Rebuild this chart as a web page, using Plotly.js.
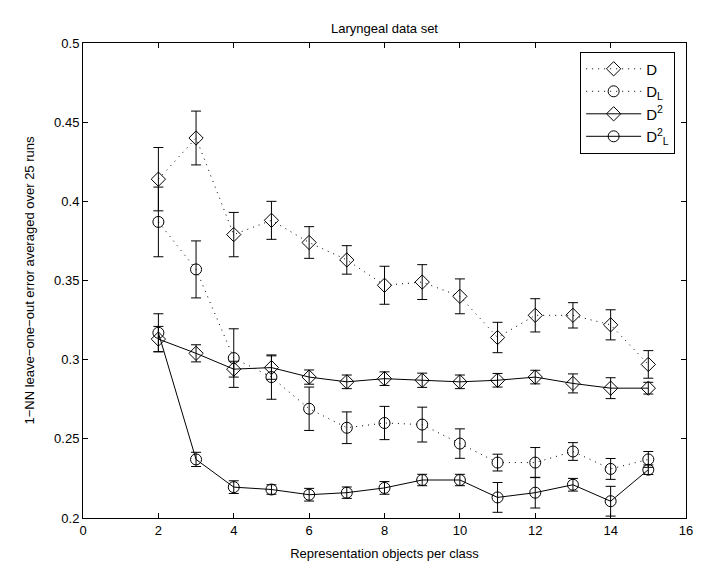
<!DOCTYPE html>
<html>
<head>
<meta charset="utf-8">
<script src="https://cdn.plot.ly/plotly-3.0.1.min.js"></script>
<style>html,body{margin:0;padding:0;background:#fff;}#chart{width:708px;height:571px;}</style>
</head>
<body>
<div id="chart"></div>
<script>
const xVals = [2, 3, 4, 5, 6, 7, 8, 9, 10, 11, 12, 13, 14, 15];
const D      = [0.414, 0.440, 0.379, 0.388, 0.374, 0.363, 0.347, 0.349, 0.340, 0.314, 0.328, 0.328, 0.322, 0.297];
const D_err  = [0.020, 0.017, 0.014, 0.012, 0.010, 0.009, 0.012, 0.011, 0.011, 0.0096, 0.0105, 0.008, 0.0095, 0.0087];
const DL     = [0.387, 0.357, 0.301, 0.289, 0.269, 0.257, 0.260, 0.259, 0.247, 0.235, 0.235, 0.242, 0.231, 0.237];
const DL_err = [0.022, 0.018, 0.0185, 0.014, 0.0137, 0.010, 0.0105, 0.011, 0.0093, 0.0053, 0.0095, 0.0056, 0.0066, 0.005];
const D2     = [0.313, 0.304, 0.294, 0.295, 0.289, 0.286, 0.288, 0.287, 0.286, 0.287, 0.289, 0.285, 0.282, 0.282];
const D2_err = [0.008, 0.0054, 0.005, 0.0074, 0.0045, 0.0043, 0.0043, 0.0045, 0.0043, 0.0043, 0.0043, 0.006, 0.0066, 0.0037];
const DL2    = [0.317, 0.237, 0.2195, 0.218, 0.2147, 0.216, 0.219, 0.224, 0.224, 0.213, 0.216, 0.221, 0.2106, 0.2305];
const DL2_err= [0.012, 0.0045, 0.004, 0.003, 0.004, 0.0036, 0.004, 0.0036, 0.0036, 0.0094, 0.0097, 0.004, 0.0094, 0.003];
const seriesNames = ['D', 'D<sub>L</sub>', 'D<sup>2</sup>', 'D<sup>2</sup><sub>L</sub>'];
const xTicks = [0, 2, 4, 6, 8, 10, 12, 14, 16];
const yTicks = [0.2, 0.25, 0.3, 0.35, 0.4, 0.45, 0.5];

const FONT = 'Liberation Sans, Arial, Helvetica, sans-serif';

function mk(y, err, name, symbol, dash) {
  return {
    x: xVals, y: y, name: name, type: 'scatter', mode: 'lines+markers',
    line: {color: '#000', width: 1, dash: dash},
    marker: {symbol: symbol, size: 11, color: '#000',
             line: {color: '#000', width: 1}},
    error_y: {type: 'data', array: err, visible: true, color: '#000', thickness: 1, width: 5}
  };
}

const data = [
  mk(D, D_err, seriesNames[0], 'diamond-open', '1px,5px'),
  mk(DL, DL_err, seriesNames[1], 'circle-open', '1px,5px'),
  mk(D2, D2_err, seriesNames[2], 'diamond-open', 'solid'),
  mk(DL2, DL2_err, seriesNames[3], 'circle-open', 'solid')
];

const layout = {
  width: 708, height: 571,
  paper_bgcolor: '#fff', plot_bgcolor: '#fff',
  margin: {l: 83, r: 22, t: 43, b: 53, pad: 0},
  font: {family: FONT, size: 13, color: '#000'},
  title: {text: 'Laryngeal data set', font: {family: FONT, size: 13, color: '#000'},
          x: 0.5, xref: 'paper', y: 1 - 28/571, yref: 'container', yanchor: 'middle'},
  showlegend: true,
  legend: {x: 0.982, y: 0.982, xanchor: 'right', yanchor: 'top', bordercolor: '#000', borderwidth: 1,
           bgcolor: '#fff', font: {family: FONT, size: 15, color: '#000'}, tracegroupgap: 0,
           itemwidth: 55},
  xaxis: {range: [0, 16], tickvals: xTicks, ticktext: xTicks.map(String), ticks: 'inside', ticklen: 5,
          tickcolor: '#000', showline: true, linecolor: '#000', linewidth: 1, mirror: 'ticks',
          showgrid: false, zeroline: false, tickfont: {family: FONT, size: 13},
          title: {text: 'Representation objects per class', font: {family: FONT, size: 13}, standoff: 12}},
  yaxis: {range: [0.2, 0.5], tickvals: yTicks, ticktext: yTicks.map(String), ticks: 'inside', ticklen: 5,
          tickcolor: '#000', showline: true, linecolor: '#000', linewidth: 1, mirror: 'ticks',
          showgrid: false, zeroline: false, tickfont: {family: FONT, size: 13},
          title: {text: '1\u2212NN leave\u2212one\u2212out error averaged over 25 runs', font: {family: FONT, size: 13}, standoff: 16}}
};

Plotly.newPlot('chart', data, layout, {displayModeBar: false, staticPlot: true});
</script>
</body>
</html>
